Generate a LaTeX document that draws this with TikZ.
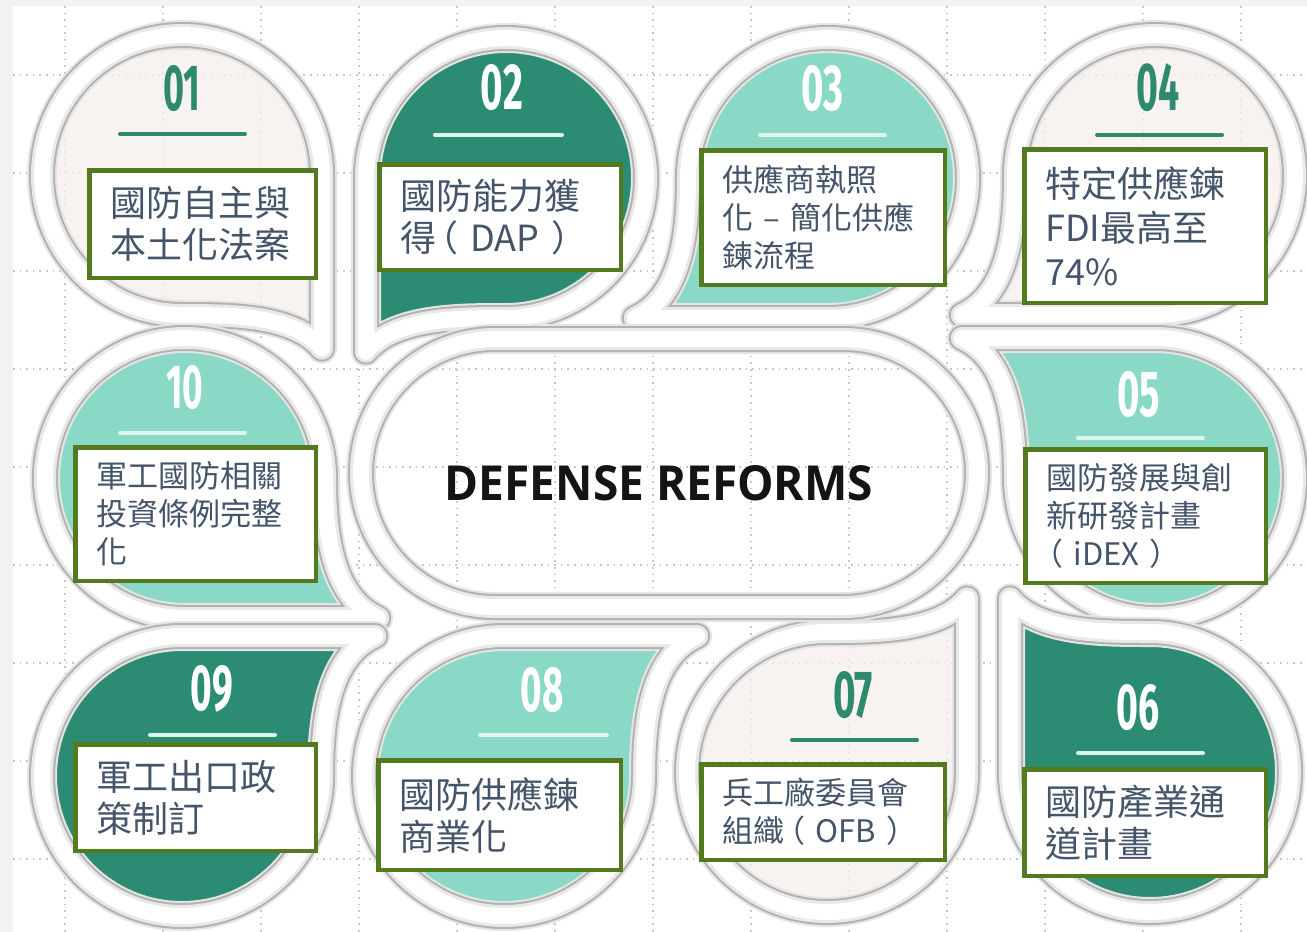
\documentclass[tikz,border=0pt]{standalone}
\usepackage{fontspec}
\usepackage{graphicx}
\setmainfont{Noto Sans CJK TC}
\newfontfamily\cjk{Noto Sans CJK TC}
\newfontfamily\numfont{Fira Sans}
\newfontfamily\titlefont{Open Sans}
\definecolor{beige}{HTML}{F6EFEC}
\definecolor{dkgreen}{HTML}{2B8B73}
\definecolor{ltteal}{HTML}{8AD9C7}
\definecolor{olivebd}{HTML}{547A1F}
\definecolor{slate}{HTML}{44546A}
\definecolor{numgreen}{HTML}{2D8A6E}
\definecolor{lightline}{HTML}{DDF5EF}
\tikzset{
  ringA/.style={draw=black!10, line width=30pt, line join=round},
  ringB/.style={draw=black!30, line width=26pt, line join=round},
  ringC/.style={draw=black!9, line width=22pt, line join=round},
  ringD/.style={draw=white, line width=16pt, line join=round},
  beigefill/.style={fill=beige, fill opacity=0.75},
  dkfill/.style={fill=dkgreen},
  ltfill/.style={fill=ltteal},
  gridline/.style={draw=black!22, line width=1.4pt, dash pattern=on 1.6pt off 5pt},
  numsty/.style={inner sep=0pt, font=\numfont\bfseries},
  uline/.style={line width=4pt, line cap=round},
  tbox/.style={draw=olivebd, line width=4.5pt, fill=white, text=slate, align=left,
    inner xsep=21pt, inner ysep=0pt, anchor=north west},
  bigtxt/.style={font=\cjk\fontsize{36pt}{42pt}\selectfont},
  smalltxt/.style={font=\cjk\fontsize{31pt}{38pt}\selectfont},
}
% canonical teardrops, unit radius, corner at bottom-right (image coords, y down)
% V: straight vertical side, tail pointing down; H: straight horizontal side, tail pointing right
\newcommand\pathV{(1,0) -- (1,1.24) .. controls (0.8,1.0) and (0.35,1) .. (0,1)
    arc[start angle=90, end angle=360, radius=1] -- cycle}
\newcommand\pathH{(1,0) .. controls (1,0.4) and (1.05,0.85) .. (1.38,1) -- (0,1)
    arc[start angle=90, end angle=360, radius=1] -- cycle}
% #1 cx, #2 cy, #3 r, #4 sx, #5 sy, #6 V or H, #7 style
\newcommand\dropat[7]{%
  \path[#7, shift={(#1,#2)}, xscale=#4*#3, yscale=#5*#3] \csname path#6\endcsname;}
\newcommand\ringat[5]{%
  \dropat{#1}{#2}{140}{#3}{#4}{#5}{ringA}%
  \dropat{#1}{#2}{140}{#3}{#4}{#5}{ringB}%
  \dropat{#1}{#2}{140}{#3}{#4}{#5}{ringC}%
  \dropat{#1}{#2}{140}{#3}{#4}{#5}{ringD}}
\newcommand\stadpath{[rounded corners=133.9pt] (361,339) rectangle (977,607)}
\begin{document}
\begin{tikzpicture}[x=1pt,y=-1pt]
\useasboundingbox (0,0) rectangle (1307,932);
% background
\fill[black!5] (0,0) rectangle (1307,932);
\fill[white] (13,6) rectangle (1307,932);
\foreach \gx in {65,163,...,1241} \draw[gridline] (\gx,6) -- (\gx,932);
\foreach \gy in {75,173,...,859} \draw[gridline] (13,\gy) -- (1307,\gy);
% fills
\dropat{182}{175}{128}{1}{1}{V}{beigefill}
\dropat{506}{178}{128}{-1}{1}{V}{dkfill}
\dropat{828}{178}{128}{-1}{1}{H}{ltfill}
\dropat{1155}{175}{128}{-1}{1}{H}{beigefill}
\dropat{185}{478}{128}{1}{1}{H}{ltfill}
\dropat{1155}{478}{128}{-1}{-1}{H}{ltfill}
\dropat{1150}{772}{128}{-1}{-1}{V}{dkfill}
\dropat{827}{772}{128}{1}{-1}{V}{beigefill}
\dropat{504}{776}{128}{1}{-1}{H}{ltfill}
\dropat{182}{776}{128}{1}{-1}{H}{dkfill}
% rings
\ringat{182}{175}{1}{1}{V}
\ringat{506}{178}{-1}{1}{V}
\ringat{828}{178}{-1}{1}{H}
\ringat{1155}{175}{-1}{1}{H}
\ringat{185}{478}{1}{1}{H}
\ringat{1155}{478}{-1}{-1}{H}
\ringat{1150}{772}{-1}{-1}{V}
\ringat{827}{772}{1}{-1}{V}
\ringat{504}{776}{1}{-1}{H}
\ringat{182}{776}{1}{-1}{H}
\path[ringA] \stadpath;
\path[ringB] \stadpath;
\path[ringC] \stadpath;
\path[ringD] \stadpath;
% numbers
\node[numsty, text=numgreen] (n01) at (182,89) {\resizebox{37pt}{45pt}{01}};
\node[numsty, text=white] (n02) at (502,88) {\resizebox{42pt}{45pt}{02}};
\node[numsty, text=white] (n03) at (822,89) {\resizebox{42pt}{45pt}{03}};
\node[numsty, text=numgreen] (n04) at (1158,88) {\resizebox{43pt}{47pt}{04}};
\node[numsty, text=white] (n10) at (185,388) {\resizebox{37pt}{43pt}{10}};
\node[numsty, text=white] (n05) at (1139,395) {\resizebox{43pt}{45pt}{05}};
\node[numsty, text=white] (n09) at (212,689) {\resizebox{42pt}{45pt}{09}};
\node[numsty, text=white] (n08) at (542,690) {\resizebox{43pt}{44pt}{08}};
\node[numsty, text=numgreen] (n07) at (853,695) {\resizebox{40pt}{46pt}{07}};
\node[numsty, text=white] (n06) at (1138,708) {\resizebox{43pt}{45pt}{06}};
% underlines
\draw[uline, numgreen] (120,134) -- (245,134);
\draw[uline, lightline] (435,135) -- (562,135);
\draw[uline, lightline] (760,135) -- (885,135);
\draw[uline, numgreen] (1097,135) -- (1222,135);
\draw[uline, lightline] (120,433) -- (245,433);
\draw[uline, lightline] (1078,438) -- (1203,438);
\draw[uline, lightline] (150,735) -- (275,735);
\draw[uline, lightline] (480,735) -- (607,735);
\draw[uline, numgreen] (792,740) -- (917,740);
\draw[uline, lightline] (1078,753) -- (1203,753);
% title
\node[inner sep=0pt, text=black!92] (title) at (659,483) {\resizebox{428pt}{35pt}{\titlefont\bfseries DEFENSE REFORMS}};
% text boxes
\node[tbox, bigtxt, minimum width=226.5pt, minimum height=107.5pt, text width=184.5pt] (b01) at (87,168) {\mbox{國防自主與}\\\mbox{本土化法案}};
\node[tbox, bigtxt, minimum width=241.5pt, minimum height=105.5pt, text width=199.5pt] (b02) at (377,162) {\mbox{國防能力獲}\\\mbox{得\kern-14pt（ DAP ）}};
\node[tbox, smalltxt, minimum width=243.5pt, minimum height=134.5pt, text width=201.5pt] (b03) at (699,148) {\mbox{供應商執照}\\\mbox{化 – 簡化供應}\\\mbox{鍊流程}};
\node[tbox, font=\cjk\fontsize{36pt}{44pt}\selectfont, minimum width=241.5pt, minimum height=153.5pt, text width=199.5pt] (b04) at (1022,147) {\mbox{特定供應鍊}\\\mbox{FDI最高至}\\\mbox{74\%}};
\node[tbox, smalltxt, minimum width=240.5pt, minimum height=133.5pt, text width=198.5pt] (b10) at (73,445) {\mbox{軍工國防相關}\\\mbox{投資條例完整}\\\mbox{化}};
\node[tbox, smalltxt, minimum width=240.5pt, minimum height=133.5pt, text width=198.5pt] (b05) at (1023,447) {\mbox{國防發展與創}\\\mbox{新研發計畫}\\\mbox{\kern-14pt（ iDEX ）}};
\node[tbox, bigtxt, minimum width=240.5pt, minimum height=106.5pt, text width=198.5pt] (b09) at (73,742) {\mbox{軍工出口政}\\\mbox{策制訂}};
\node[tbox, bigtxt, minimum width=242.5pt, minimum height=109.5pt, text width=200.5pt] (b08) at (376,758) {\mbox{國防供應鍊}\\\mbox{商業化}};
\node[tbox, smalltxt, minimum width=243.5pt, minimum height=95.5pt, text width=201.5pt] (b07) at (699,762) {\mbox{兵工廠委員會}\\\mbox{組織\kern-10pt（ OFB ）}};
\node[tbox, bigtxt, minimum width=241.5pt, minimum height=106.5pt, text width=199.5pt] (b06) at (1022,767) {\mbox{國防產業通}\\\mbox{道計畫}};
\end{tikzpicture}
\end{document}
